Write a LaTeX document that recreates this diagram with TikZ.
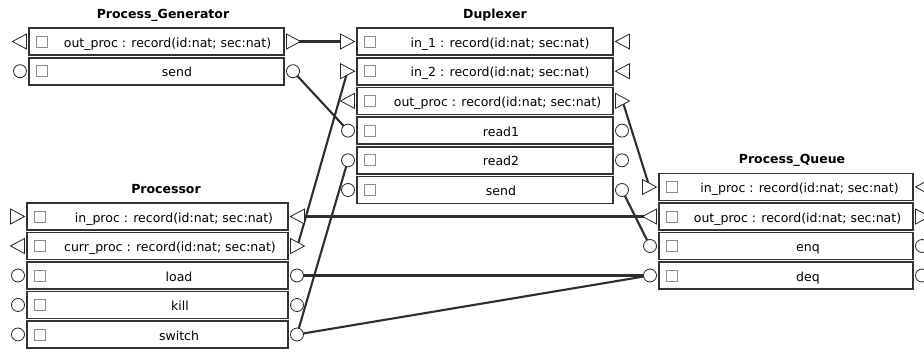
\documentclass[tikz,border=0pt]{standalone}
\usepackage{fontspec}
\setmainfont{DejaVu Sans}
\usetikzlibrary{backgrounds,calc}
\tikzset{
 rowbox/.style={draw=black!80, line width=1.6pt, fill=white, minimum height=27pt, inner sep=0pt},
 chk/.style={draw=black!45, line width=0.7pt, minimum size=11pt, inner sep=0pt},
 lbl/.style={font=\fontsize{12.5}{14}\selectfont, anchor=base, inner sep=0pt},
 ttl/.style={font=\fontsize{12.5}{14}\selectfont\bfseries, anchor=base, inner sep=0pt},
 cport/.style={circle, draw=black!85, line width=0.8pt, fill=white, minimum size=13pt, inner sep=0pt},
 tport/.style={minimum size=14pt, inner sep=0pt},
 tri/.style={draw=black!85, line width=0.8pt, fill=white, line join=miter},
 wire/.style={line width=2.1pt, draw=black!82},
}
\newcommand\trR[1]{\path[tri] ([xshift=-7pt,yshift=-7.5pt]#1.center) -- ([xshift=7pt]#1.center) -- ([xshift=-7pt,yshift=7.5pt]#1.center) -- cycle;}
\newcommand\trL[1]{\path[tri] ([xshift=7pt,yshift=-7.5pt]#1.center) -- ([xshift=-7pt]#1.center) -- ([xshift=7pt,yshift=7.5pt]#1.center) -- cycle;}
% #1 name, #2 left, #3 right, #4 y centre, #5 label, #6 label x
\newcommand\baserow[6]{%
 \node[rowbox, minimum width={#3-#2}] (#1) at ({(#2+#3)/2},#4) {};
 \node[chk] (#1-c) at ({#2+13},#4) {};
 \node[lbl] (#1-t) at (#6,{#4+5.5}) {#5};
}
\newcommand\inrow[6]{\baserow{#1}{#2}{#3}{#4}{#5}{#6}%
 \node[tport] (#1-L) at ({#2-9.5},#4) {}; \node[tport] (#1-R) at ({#3+9.5},#4) {};
 \trR{#1-L}\trL{#1-R}}
\newcommand\outrow[6]{\baserow{#1}{#2}{#3}{#4}{#5}{#6}%
 \node[tport] (#1-L) at ({#2-9.5},#4) {}; \node[tport] (#1-R) at ({#3+9.5},#4) {};
 \trL{#1-L}\trR{#1-R}}
\newcommand\crow[6]{\baserow{#1}{#2}{#3}{#4}{#5}{#6}%
 \node[cport] (#1-L) at ({#2-9},#4) {}; \node[cport] (#1-R) at ({#3+9},#4) {};}
\begin{document}
\begin{tikzpicture}[x=1pt,y=-1pt]
\useasboundingbox (0,0) rectangle (924,351);
% Process_Generator
\node[ttl] (tpg) at (163,18) {Process\_Generator};
\outrow{pg1}{29}{284}{41.5}{out\_proc : record(id:nat; sec:nat)}{167.5}
\crow{pg2}{29}{284}{71.2}{send}{177}
% Duplexer
\node[ttl] (tdx) at (495,18) {Duplexer};
\inrow{dx1}{357}{613}{41.5}{in\_1 : record(id:nat; sec:nat)}{500}
\inrow{dx2}{357}{613}{71.2}{in\_2 : record(id:nat; sec:nat)}{500}
\outrow{dx3}{357}{613}{100.9}{out\_proc : record(id:nat; sec:nat)}{497.5}
\crow{dx4}{357}{613}{130.6}{read1}{501}
\crow{dx5}{357}{613}{160.3}{read2}{501}
\crow{dx6}{357}{613}{190}{send}{501}
% Processor
\node[ttl] (tpr) at (166,193) {Processor};
\inrow{pr1}{27}{288}{216.5}{in\_proc : record(id:nat; sec:nat)}{174}
\outrow{pr2}{27}{288}{246}{curr\_proc : record(id:nat; sec:nat)}{170}
\crow{pr3}{27}{288}{275.5}{load}{179}
\crow{pr4}{27}{288}{305}{kill}{180}
\crow{pr5}{27}{288}{334.5}{switch}{179}
% Process_Queue
\node[ttl] (tpq) at (792,163) {Process\_Queue};
\inrow{pq1}{659}{913}{187}{in\_proc : record(id:nat; sec:nat)}{799.5}
\outrow{pq2}{659}{913}{216.5}{out\_proc : record(id:nat; sec:nat)}{797.5}
\crow{pq3}{659}{913}{246}{enq}{808}
\crow{pq4}{659}{913}{275.5}{deq}{808}
% connectors
\begin{scope}[on background layer]
\fill[white] (0,0) rectangle (924,351);
\draw[wire] (pg1-R.center) -- (dx1-L.center);
\draw[wire] (pg2-R.center) -- (dx4-L.center);
\draw[wire] (pr2-R.center) -- (dx2-L.center);
\draw[wire] (pr5-R.center) -- (dx5-L.center);
\draw[wire] (pr5-R.center) -- (pq4-L.center);
\draw[wire] (pr3-R.center) -- (pq4-L.center);
\draw[wire] (pq2-L.center) -- (pr1-R.center);
\draw[wire] (dx3-R.center) -- (pq1-L.center);
\draw[wire] (dx6-R.center) -- (pq3-L.center);
\end{scope}
\end{tikzpicture}
\end{document}
